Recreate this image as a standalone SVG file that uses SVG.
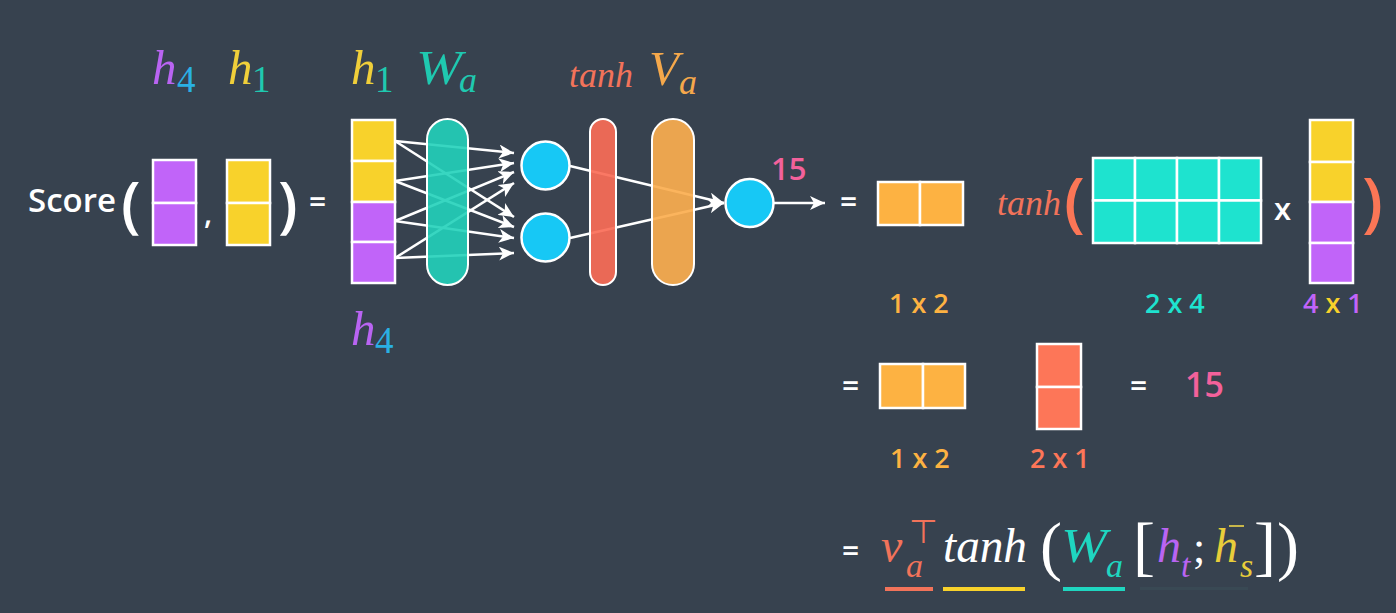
<svg xmlns="http://www.w3.org/2000/svg" width="1396" height="613" viewBox="0 0 1396 613">
<defs>
<style>
.cell{stroke:#fff;stroke-width:2.5}
.pu{fill:#c164f9}.ye{fill:#f8d22b}.te{fill:#1ee3cf}.or{fill:#fdb242}.rd{fill:#fd7658}
.math{font-family:"Liberation Serif",serif;font-style:italic}
.rm{font-family:"Liberation Serif",serif}
.sans{font-family:"Open Sans","Liberation Sans",sans-serif;font-weight:600}
.edge{stroke:#fff;stroke-width:2.5;fill:none;marker-end:url(#arr)}
.pill{stroke:#fff;stroke-width:2}
.node{fill:#17c8f5;stroke:#fff;stroke-width:2.5}
</style>
<marker id="arr" markerUnits="userSpaceOnUse" markerWidth="16" markerHeight="14" refX="15" refY="7" orient="auto">
<path d="M0,0 L15,7 L0,14 L4,7 Z" fill="#fff"/>
</marker>
</defs>
<rect width="1396" height="613" fill="#37424f"/>

<g id="connectors">
<line class="edge" x1="395" y1="141" x2="514" y2="153"/>
<line class="edge" x1="395" y1="141" x2="514" y2="217"/>
<line class="edge" x1="395" y1="181" x2="514" y2="163"/>
<line class="edge" x1="395" y1="181" x2="514" y2="227"/>
<line class="edge" x1="395" y1="221" x2="514" y2="172"/>
<line class="edge" x1="395" y1="221" x2="514" y2="238"/>
<line class="edge" x1="395" y1="258" x2="514" y2="183"/>
<line class="edge" x1="395" y1="258" x2="514" y2="253"/>
<line class="edge" x1="570" y1="166" x2="724" y2="203"/>
<line class="edge" x1="570" y1="238" x2="724" y2="203"/>
<line class="edge" x1="774" y1="203" x2="825" y2="203"/>
</g>

<g id="score-expr">
<text class="sans" x="28" y="212" font-size="33" fill="#fff">Score</text>
<text class="sans" x="121" y="226" font-size="62" font-weight="400" fill="#fff">(</text>
<rect class="cell pu" x="153" y="160" width="43" height="43"/>
<rect class="cell pu" x="153" y="203" width="43" height="42"/>
<text class="sans" x="204" y="224" font-size="30" font-weight="400" fill="#fff">,</text>
<rect class="cell ye" x="227" y="160" width="43" height="43"/>
<rect class="cell ye" x="227" y="203" width="43" height="42"/>
<text class="sans" x="278" y="226" font-size="62" font-weight="400" fill="#fff">)</text>
<text class="sans" x="309" y="213" font-size="30" fill="#fff">=</text>
<text class="math" x="152" y="84" font-size="49" fill="#b964f2">h</text>
<text class="rm" x="177" y="92" font-size="37" fill="#2ab0e4">4</text>
<text class="math" x="228" y="84" font-size="49" fill="#f0cf3a">h</text>
<text class="rm" x="252" y="92" font-size="37" fill="#1fc9b0">1</text>
</g>

<g id="input-column">
<rect class="cell ye" x="352" y="120" width="43" height="41"/>
<rect class="cell ye" x="352" y="161" width="43" height="41"/>
<rect class="cell pu" x="352" y="202" width="43" height="40"/>
<rect class="cell pu" x="352" y="242" width="43" height="41"/>
<text class="math" x="351" y="84" font-size="49" fill="#f0cf3a">h</text>
<text class="rm" x="375" y="92" font-size="37" fill="#1fc9b0">1</text>
<text class="math" x="351" y="345" font-size="49" fill="#b964f2">h</text>
<text class="rm" x="375" y="353" font-size="37" fill="#2ab0e4">4</text>
</g>

<g id="wa-layer">
<rect class="pill" x="427" y="119" width="41" height="166" rx="20.5" fill="#22d2ba" fill-opacity="0.9"/>
<text class="math" x="416" y="84" font-size="49" fill="#1fc9b0" textLength="46" lengthAdjust="spacingAndGlyphs">W</text>
<text class="math" x="459" y="92" font-size="36" fill="#1fc9b0">a</text>
</g>

<g id="hidden-nodes">
<circle class="node" cx="545.5" cy="165.5" r="24"/>
<circle class="node" cx="545.5" cy="237.5" r="24"/>
</g>

<g id="tanh-layer">
<rect class="pill" x="590" y="119" width="26" height="166" rx="13" fill="#fa6d57" fill-opacity="0.92"/>
<text class="math" x="569" y="87" font-size="35" fill="#f2735a" textLength="64" lengthAdjust="spacingAndGlyphs">tanh</text>
</g>

<g id="va-layer">
<rect class="pill" x="652" y="119" width="42" height="166" rx="21" fill="#fbae4f" fill-opacity="0.92"/>
<text class="math" x="649" y="85" font-size="49" fill="#f5a84b">V</text>
<text class="math" x="679" y="94" font-size="36" fill="#f5a84b">a</text>
</g>

<g id="output-node">
<circle class="node" cx="749.5" cy="203" r="24"/>
<text class="sans" x="771" y="180" font-size="31" fill="#f3619b">15</text>
</g>

<g id="row1">
<text class="sans" x="840" y="213" font-size="30" fill="#fff">=</text>
<rect class="cell or" x="878" y="182" width="42" height="43"/>
<rect class="cell or" x="920" y="182" width="43" height="43"/>
<text class="sans" x="889" y="313" font-size="27" fill="#fdb242">1 x 2</text>
<text class="math" x="997" y="215" font-size="35" fill="#f2735a" textLength="64" lengthAdjust="spacingAndGlyphs">tanh</text>
<text class="sans" x="1064" y="225" font-size="66" font-weight="400" fill="#fb7656">(</text>
<rect class="cell te" x="1093" y="158" width="42" height="42.5"/>
<rect class="cell te" x="1135" y="158" width="42" height="42.5"/>
<rect class="cell te" x="1177" y="158" width="42" height="42.5"/>
<rect class="cell te" x="1219" y="158" width="42" height="42.5"/>
<rect class="cell te" x="1093" y="200.5" width="42" height="42.5"/>
<rect class="cell te" x="1135" y="200.5" width="42" height="42.5"/>
<rect class="cell te" x="1177" y="200.5" width="42" height="42.5"/>
<rect class="cell te" x="1219" y="200.5" width="42" height="42.5"/>
<text class="sans" x="1145" y="313" font-size="27" fill="#1ee3cf">2 x 4</text>
<text class="sans" x="1274" y="220" font-size="31" fill="#fff">x</text>
<rect class="cell ye" x="1310" y="120" width="43" height="42"/>
<rect class="cell ye" x="1310" y="162" width="43" height="40"/>
<rect class="cell pu" x="1310" y="202" width="43" height="41"/>
<rect class="cell pu" x="1310" y="243" width="43" height="40"/>
<text class="sans" x="1362" y="225" font-size="66" font-weight="400" fill="#fb7656">)</text>
<text class="sans" x="1303" y="313" font-size="27"><tspan fill="#c164f9">4 </tspan><tspan fill="#f8d22b">x</tspan><tspan fill="#c164f9"> 1</tspan></text>
</g>

<g id="row2">
<text class="sans" x="842" y="397" font-size="30" fill="#fff">=</text>
<rect class="cell or" x="880" y="364" width="43" height="44"/>
<rect class="cell or" x="923" y="364" width="42" height="44"/>
<text class="sans" x="890" y="468" font-size="27" fill="#fdb242">1 x 2</text>
<rect class="cell rd" x="1037" y="344" width="44" height="43"/>
<rect class="cell rd" x="1037" y="387" width="44" height="42"/>
<text class="sans" x="1030" y="468" font-size="27" fill="#fd7658">2 x 1</text>
<text class="sans" x="1130" y="397" font-size="30" fill="#fff">=</text>
<text class="sans" x="1185" y="397" font-size="34" fill="#f3619b">15</text>
</g>

<g id="formula">
<text class="sans" x="842" y="562" font-size="30" fill="#fff">=</text>
<text class="math" x="881" y="562" font-size="48" fill="#f2735a">v</text>
<text class="math" x="906" y="577" font-size="34" fill="#f2735a">a</text>
<text x="909" y="543" font-size="33" fill="#f2735a" font-family="DejaVu Sans, sans-serif">⊤</text>
<text class="math" x="943" y="562" font-size="48" fill="#fff" textLength="84" lengthAdjust="spacingAndGlyphs">tanh</text>
<text class="rm" x="1040" y="568" font-size="66" fill="#fff">(</text>
<text class="math" x="1061" y="562" font-size="48" fill="#1fd6c0" textLength="46" lengthAdjust="spacingAndGlyphs">W</text>
<text class="math" x="1106" y="577" font-size="34" fill="#1fd6c0">a</text>
<text class="rm" x="1133" y="568" font-size="66" fill="#fff">[</text>
<text class="math" x="1157" y="562" font-size="48" fill="#b964f2">h</text>
<text class="math" x="1181" y="577" font-size="34" fill="#b964f2">t</text>
<text class="rm" x="1193" y="562" font-size="44" fill="#fff">;</text>
<text class="math" x="1214" y="562" font-size="48" fill="#e8cd3a">h</text>
<line x1="1229" y1="526" x2="1244" y2="526" stroke="#c7b64a" stroke-width="2"/>
<text class="math" x="1240" y="577" font-size="34" fill="#e8cd3a">s</text>
<text class="rm" x="1254" y="568" font-size="66" fill="#fff">]</text>
<text class="rm" x="1277" y="568" font-size="66" fill="#fff">)</text>
<rect x="885" y="587" width="48" height="4" fill="#f2735a"/>
<rect x="943" y="587" width="82" height="4" fill="#f8d22b"/>
<rect x="1063" y="587" width="62" height="4" fill="#1fd6c0"/>
<rect x="1140" y="587" width="108" height="3" fill="#3e5f64" opacity="0.25"/>
</g>
</svg>
